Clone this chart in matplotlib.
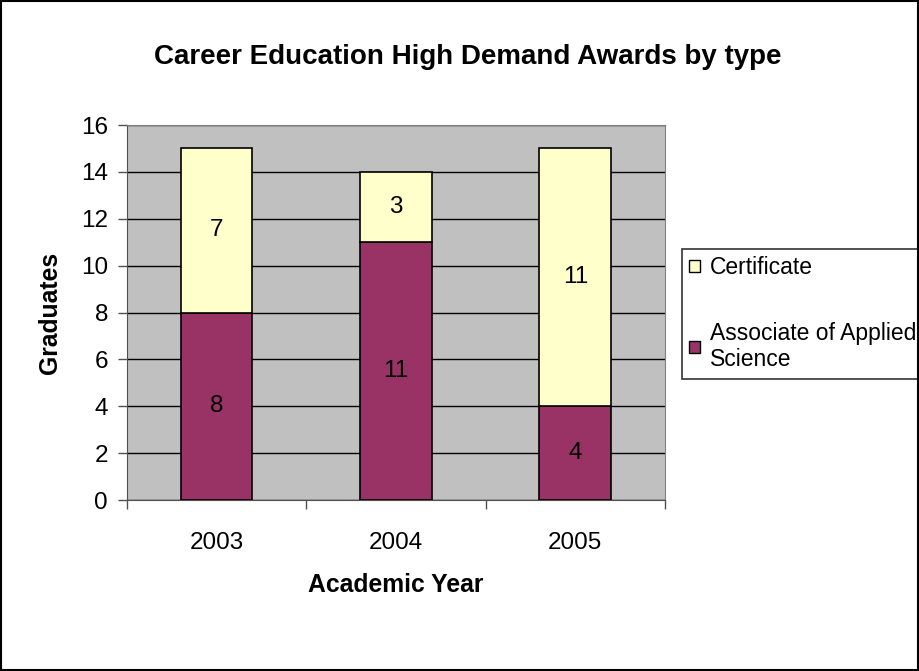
import matplotlib.pyplot as plt
from matplotlib.patches import Rectangle, Patch
import numpy as np

years = ["2003", "2004", "2005"]
associate = [8, 11, 4]
certificate = [7, 3, 11]
y_ticks = [0, 2, 4, 6, 8, 10, 12, 14, 16]

MAROON = "#993366"
CREAM = "#FFFFCC"
GREY = "#C0C0C0"

plt.rcParams["font.family"] = ["Liberation Sans", "DejaVu Sans"]


def main():
    fig = plt.figure(figsize=(9.19, 6.71), dpi=100)
    ax = fig.add_axes([0.138, 0.2548, 0.5856, 0.5589])
    ax.set_facecolor(GREY)

    x = np.arange(len(years))
    ax.bar(x, associate, width=0.4, color=MAROON, edgecolor="black", linewidth=1.2, zorder=3)
    ax.bar(x, certificate, width=0.4, bottom=associate, color=CREAM, edgecolor="black",
           linewidth=1.2, zorder=3)

    # segment values, centred in each block
    for i in range(len(years)):
        ax.text(x[i], associate[i] / 2, str(associate[i]), ha="center", va="center",
                fontsize=17.5, zorder=4)
        ax.text(x[i], associate[i] + certificate[i] / 2, str(certificate[i]),
                ha="center", va="center", fontsize=17.5, zorder=4)

    ax.set_xlim(-0.5, len(years) - 0.5)
    ax.set_ylim(0, 16)
    ax.set_yticks(y_ticks)
    ax.yaxis.grid(True, color="black", linewidth=1)
    ax.set_axisbelow(True)

    ax.set_xticks(x)
    ax.set_xticklabels(years)
    ax.set_xticks(np.arange(len(years) + 1) - 0.5, minor=True)
    ax.tick_params(axis="x", which="major", length=0, pad=23, labelsize=17.5)
    ax.tick_params(axis="x", which="minor", length=6.5, width=1, color="#505050")
    ax.tick_params(axis="y", length=6.5, width=1, color="#505050", labelsize=17.5, pad=7)

    for side in ["top", "right"]:
        ax.spines[side].set_color("#808080")
    ax.spines["left"].set_color("#505050")
    ax.spines["bottom"].set_color("#505050")

    ax.set_xlabel("Academic Year", fontsize=17.8, fontweight="bold", labelpad=14)
    ax.set_ylabel("Graduates", fontsize=17.8, fontweight="bold", labelpad=14)

    fig.text(0.509, 0.915, "Career Education High Demand Awards by type",
             ha="center", va="center", fontsize=20, fontweight="bold")

    handles = [
        Patch(facecolor=CREAM, edgecolor="black", linewidth=1),
        Patch(facecolor=MAROON, edgecolor="black", linewidth=1),
    ]
    leg = fig.legend(handles, ["Certificate", "Associate of Applied\nScience"],
                     loc="upper left", bbox_to_anchor=(0.742, 0.629), fontsize=16.5,
                     frameon=True, fancybox=False, handlelength=0.45, handleheight=0.45,
                     handletextpad=0.45, labelspacing=1.85, borderpad=0.32,
                     borderaxespad=0)
    leg.get_frame().set_edgecolor("black")
    leg.get_frame().set_linewidth(1.2)

    fig.patches.append(Rectangle((0.001, 0.002), 0.998, 0.996, transform=fig.transFigure,
                                 fill=False, edgecolor="black", linewidth=1.5, zorder=10))

    fig.savefig("out.png", dpi=100)


if __name__ == "__main__":
    main()
